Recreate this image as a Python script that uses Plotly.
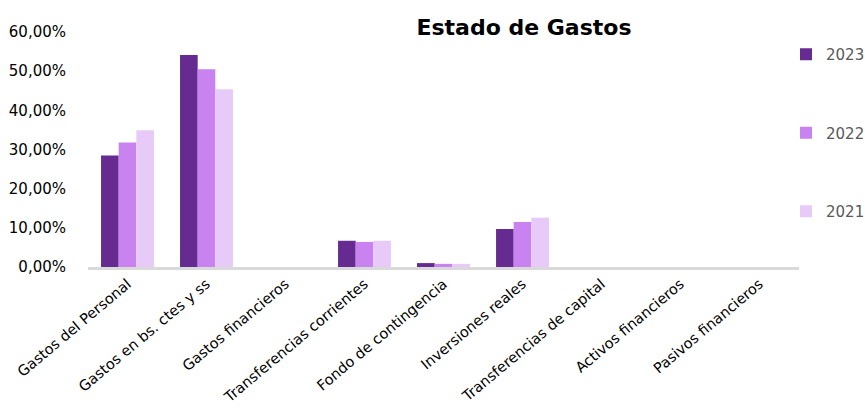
import plotly.graph_objects as go

categories = [
    "Gastos del Personal",
    "Gastos en bs. ctes y ss",
    "Gastos financieros",
    "Transferencias corrientes",
    "Fondo de contingencia",
    "Inversiones reales",
    "Transferencias de capital",
    "Activos financieros",
    "Pasivos financieros",
]

# percent values
values_2023 = [28.5, 54.1, 0, 6.7, 1.0, 9.7, 0, 0, 0]
values_2022 = [31.8, 50.5, 0, 6.4, 0.8, 11.5, 0, 0, 0]
values_2021 = [34.9, 45.4, 0, 6.7, 0.8, 12.6, 0, 0, 0]

tick_vals = [0, 10, 20, 30, 40, 50, 60]
tick_text = ["0,00%", "10,00%", "20,00%", "30,00%", "40,00%", "50,00%", "60,00%"]

series = [
    ("2023", values_2023, "#652B91"),
    ("2022", values_2022, "#C983F0"),
    ("2021", values_2021, "#E8CAF8"),
]

fig = go.Figure()
for name, vals, color in series:
    fig.add_trace(go.Bar(
        x=categories,
        y=vals,
        name=name,
        legendgroup=name,
        marker=dict(color=color, line=dict(width=0)),
    ))

W, H = 865, 408

fig.update_layout(
    width=W,
    height=H,
    paper_bgcolor="white",
    plot_bgcolor="white",
    barmode="group",
    bargap=0.33,
    bargroupgap=0,
    font=dict(family="DejaVu Sans, sans-serif", size=13, color="#000000"),
    title=dict(
        text="<b>Estado de Gastos</b>",
        x=524 / W, xanchor="center",
        y=1 - 27 / H, yanchor="middle",
        font=dict(family="DejaVu Sans, sans-serif", size=22, color="#000000"),
    ),
    xaxis=dict(
        tickangle=-40,
        showgrid=False,
        showline=True,
        linecolor="#D9D9D9",
        linewidth=3,
        ticks="",
        tickfont=dict(size=14.5),
        automargin=False,
    ),
    yaxis=dict(
        range=[0, 60],
        tickvals=tick_vals,
        ticktext=tick_text,
        showgrid=False,
        zeroline=False,
        showline=False,
        ticks="",
        ticklabelstandoff=21,
        tickfont=dict(size=15),
        automargin=False,
    ),
    legend=dict(
        xref="container", yref="container",
        x=786 / W, xanchor="left",
        y=1 - 38 / H, yanchor="top",
        tracegroupgap=56,
        font=dict(size=15, color="#595959"),
        itemwidth=30,
        bgcolor="rgba(0,0,0,0)",
    ),
    margin=dict(l=88, r=66, t=32, b=141, autoexpand=False),
)

# drop the default 8px body margin so the figure fills the window exactly
fig.write_html(
    "out.html",
    config={"displayModeBar": False},
    post_script="document.body.style.margin='0';document.body.style.overflow='hidden';",
)
